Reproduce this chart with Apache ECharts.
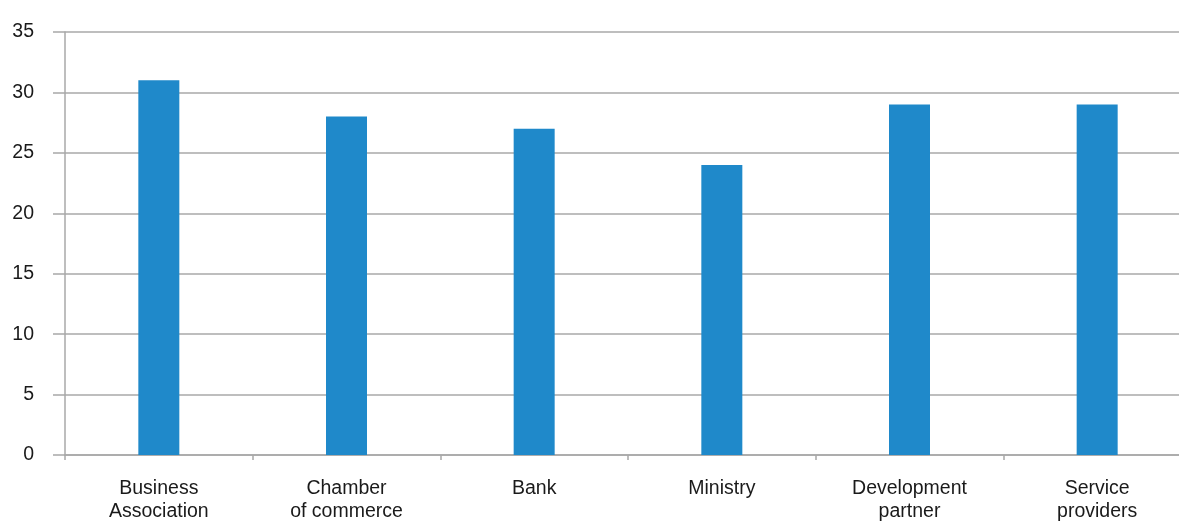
<!DOCTYPE html>
<html>
<head>
<meta charset="utf-8">
<style>
  html, body { margin: 0; padding: 0; background: #ffffff; overflow: hidden; }
  /* the plot runs a little past the right edge of the page */
  #chart { width: 1191px; height: 523px; }
</style>
<script src="https://cdn.jsdelivr.net/npm/echarts@6/dist/echarts.min.js"></script>
</head>
<body>
<div id="chart"></div>
<script>
// Categories and their counts
const categories = [
  'Business\nAssociation',
  'Chamber\nof commerce',
  'Bank',
  'Ministry',
  'Development\npartner',
  'Service\nproviders'
];
const values = [31, 28, 27, 24, 29, 29];
const yTicks = { min: 0, max: 35, interval: 5 };

const gray = '#a8a8a8';
const fontFamily = '"Liberation Sans", Arial, Helvetica, sans-serif';

const chart = echarts.init(document.getElementById('chart'), null, { renderer: 'canvas' });
chart.setOption({
  animation: false,
  grid: { left: 65, right: 0, top: 32, bottom: 65, containLabel: false },
  xAxis: {
    type: 'category',
    data: categories,
    boundaryGap: true,
    axisLine: { lineStyle: { color: gray, width: 1.5 } },
    axisTick: { show: true, length: 5, alignWithLabel: false, lineStyle: { color: gray, width: 1.5 } },
    axisLabel: {
      color: '#1a1a1a',
      fontSize: 19.5,
      fontFamily: fontFamily,
      lineHeight: 23,
      margin: 22,
      interval: 0
    }
  },
  yAxis: {
    type: 'value',
    min: yTicks.min,
    max: yTicks.max,
    interval: yTicks.interval,
    axisLine: { show: true, lineStyle: { color: gray, width: 1.5 } },
    axisTick: { show: true, length: 12, lineStyle: { color: gray, width: 1.5 } },
    splitLine: { show: true, lineStyle: { color: gray, width: 1.5 } },
    axisLabel: {
      color: '#1a1a1a',
      fontSize: 19.5,
      fontFamily: fontFamily,
      margin: 31
    }
  },
  series: [{
    type: 'bar',
    data: values,
    barWidth: 41,
    itemStyle: { color: '#1f89ca' }
  }]
});
</script>
</body>
</html>
